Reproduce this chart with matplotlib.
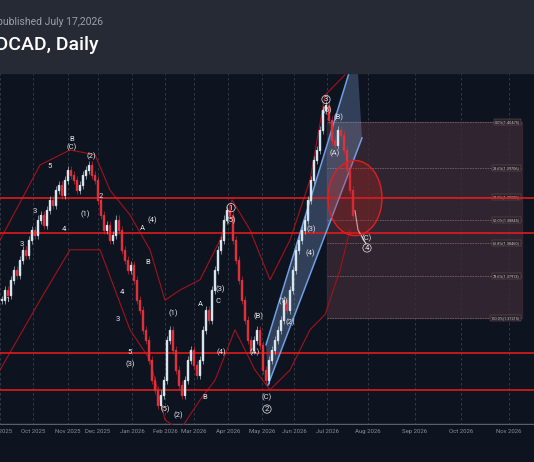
import matplotlib
matplotlib.use("Agg")
import matplotlib.pyplot as plt
from matplotlib.patches import Ellipse, Rectangle, Polygon
import numpy as np

plt.rcParams['font.family'] = ['Roboto', 'DejaVu Sans']

# ---- data ----
closes = [1.3751,1.3768,1.3760,1.3785,1.3801,1.3793,1.3818,1.3835,1.3826,1.3851,1.3868,1.3860,
          1.3885,1.3893,1.3876,1.3901,1.3918,1.3909,1.3934,1.3943,1.3926,1.3951,1.3968,1.3959,
          1.3951,1.3934,1.3943,1.3959,1.3968,1.3976,1.3959,1.3951,
          1.3918,1.3893,1.3868,1.3876,1.3851,1.3860,1.3885,1.3868,1.3835,1.3818,1.3801,1.3810,1.3785,1.3751,1.3735,1.3702,1.3685,
          1.3652,1.3618,1.3602,1.3577,1.3594,1.3618,
          1.3685,1.3702,1.3668,1.3635,1.3610,1.3594,1.3618,
          1.3652,1.3668,1.3643,1.3627,1.3652,1.3702,1.3735,1.3718,
          1.3768,1.3801,1.3835,1.3851,1.3885,1.3901,1.3893,
          1.3851,1.3818,1.3785,1.3751,1.3718,1.3685,1.3668,1.3685,
          1.3702,1.3677,1.3635,1.3618,
          1.3652,1.3668,1.3685,1.3702,1.3718,1.3751,1.3735,1.3768,1.3801,1.3835,1.3851,1.3868,1.3885,1.3918,1.3951,1.3984,1.4001,
          1.4034,1.4067,1.4076,1.4051,1.4018,1.4009,1.4034,1.4026,1.4001,1.3968,1.3934,1.3893]
band_x = [0,40,70,95,110,130,150,165,180,200,220,232,250,270,290,310,325,345]
upper_band = [1.3851,1.3976,1.4001,1.3993,1.3934,1.3893,1.3835,1.3751,1.3768,1.3785,1.3851,1.3918,
              1.3868,1.3785,1.3851,1.3951,1.4092,1.4126]
lower_x = [0,40,70,100,130,150,165,180,200,215,235,255,270,290,310,325,340,350]
lower_band = [1.3635,1.3751,1.3835,1.3835,1.3702,1.3652,1.3552,1.3535,1.3585,1.3618,1.3702,1.3635,
              1.3602,1.3635,1.3702,1.3727,1.3801,1.3868]
h_levels = [1.3921, 1.3863, 1.3664, 1.3602]
fib_top, fib_bot = 1.40475, 1.37215
fib_ratios = [0.0, 0.236, 0.382, 0.5, 0.618, 0.786, 1.0]
month_x = [0,33,68,98,132,165,194,228,262,294,327,368,415,461,509]
month_lbl = ['Sep 2025','Oct 2025','Nov 2025','Dec 2025','Jan 2026','Feb 2026','Mar 2026','Apr 2026',
             'May 2026','Jun 2026','Jul 2026','Aug 2026','Sep 2026','Oct 2026','Nov 2026']

BG = '#0e1320'
fig = plt.figure(figsize=(5.34, 4.62), dpi=100, facecolor=BG)
fig.patches.append(Rectangle((0, 1-73/462), 1, 73/462, transform=fig.transFigure, color='#262a35', zorder=0))
fig.text(-0.005, 1-22/462, 'published July 17,2026', color='#9aa0ab', fontsize=7.5, va='center')
fig.text(-0.055, 1-45/462, 'USDCAD, Daily', color='white', fontsize=14, va='center', weight='medium')

ax = fig.add_axes([0, 37/462, 1, 352/462])
ax.set_facecolor(BG)
ax.set_xlim(0, 534)
ax.set_ylim(1.35435, 1.41290)
for s in ax.spines.values():
    s.set_visible(False)
ax.set_yticks([])
ax.set_xticks(month_x)
ax.set_xticklabels(month_lbl, color='#8a8f99', fontsize=4.3)
ax.tick_params(axis='x', length=0, pad=3)
for mx in month_x:
    ax.axvline(mx, color='#3a3f4c', lw=0.6, ls=(0, (3, 3)), zorder=0)
ax.axhline(1.35435, color='#5a5f6a', lw=2.5, zorder=1)

# fib box
x0f, x1f = 327, 522
rng = fib_top - fib_bot
ax.add_patch(Rectangle((x0f, fib_bot), x1f - x0f, rng, color='#3b2a35', alpha=0.75, zorder=1))
for r in fib_ratios:
    lv = fib_top - r * rng
    ax.plot([x0f, x1f], [lv, lv], color='#7a5c64', lw=0.6, ls=(0, (2, 1)), zorder=2)
    ax.text(x1f - 2, lv, f'{r*100:.1f}%({lv:.5f})', color='#cfc6c8', fontsize=2.8, ha='right', va='center',
            bbox=dict(boxstyle='square,pad=0.2', fc='#2a2229', ec='#7a5c64', lw=0.3), zorder=3)

# horizontal red levels
for lv in h_levels:
    ax.axhline(lv, color='#e01b1b', lw=1.2, zorder=4)

# channel
ax.add_patch(Polygon([(266, 1.3677), (349, 1.4129), (358, 1.4129), (362, 1.4021), (268, 1.3610)],
                     closed=True, fc='#8fb4ec', alpha=0.28, ec='none', zorder=2))
ax.plot([266, 349], [1.3677, 1.4129], color='#6f9fe6', lw=1.1, zorder=5)
ax.plot([268, 362], [1.3610, 1.4021], color='#6f9fe6', lw=1.1, zorder=5)

# bands
ax.plot(band_x, upper_band, color='#a3121a', lw=0.8, zorder=3)
ax.plot(lower_x, lower_band, color='#a3121a', lw=0.8, zorder=3)

# candles
xs = np.arange(len(closes)) * 3 + 1.5
opens = [closes[0]] + closes[:-1]
for x, o, c in zip(xs, opens, closes):
    col = '#d6e6ee' if c >= o else '#e0303a'
    lo, hi = min(o, c), max(o, c)
    ax.vlines(x, lo - 0.0007, hi + 0.0007, color=col, lw=0.4, zorder=6)
    ax.add_patch(Rectangle((x - 0.8, lo), 1.6, max(hi - lo, 0.0002), color=col, zorder=6))

# projection
ax.plot([355, 358, 366], [1.3900, 1.3868, 1.3845], color='#dddddd', lw=0.8, zorder=7)
ax.add_patch(Ellipse((355, 1.3921), 54, 0.0125, fc='#c01e1e', alpha=0.3, ec='none', zorder=7))
ax.add_patch(Ellipse((355, 1.3921), 54, 0.0125, fc='none', ec='#e02020', lw=1, zorder=7))

labels = [(8, 1.3751, '1'), (22, 1.3845, '3'), (35, 1.3900, '3'), (50, 1.3975, '5'), (72, 1.4005, '(C)'),
          (72, 1.4020, 'B'), (91, 1.3990, '(2)'), (85, 1.3895, '(1)'), (101, 1.3925, '2'), (64, 1.3870, '4'),
          (142, 1.3872, 'A'), (152, 1.3885, '(4)'), (148, 1.3815, 'B'), (122, 1.3765, '4'), (118, 1.3720, '3'),
          (130, 1.3665, '5'), (130, 1.3645, '(3)'), (173, 1.3730, '(1)'), (165, 1.3570, '(5)'), (178, 1.3560, '(2)'),
          (200, 1.3745, 'A'), (205, 1.3590, 'B'), (221, 1.3665, '(4)'), (220, 1.3770, '(3)'), (218, 1.3750, 'C'),
          (231, 1.3905, '1'), (231, 1.3885, '(5)'), (259, 1.3725, '(B)'), (255, 1.3665, '(A)'), (267, 1.3590, '(C)'),
          (267, 1.3570, '2'), (283, 1.3750, '(1)'), (290, 1.3715, '(2)'), (310, 1.3830, '(4)'), (311, 1.3870, '(3)'),
          (326, 1.4085, '3'), (327, 1.4067, '(5)'), (339, 1.4055, '(B)'), (335, 1.3995, '(A)'), (367, 1.3855, '(C)'),
          (367, 1.3838, '4')]
for x, y, t in labels:
    ax.text(x, y, t, color='#e8e8e8', fontsize=5.5, ha='center', va='center', zorder=8,
            bbox=dict(boxstyle='circle,pad=0.15', fc='none', ec='#e8e8e8', lw=0.5) if t in ('1','2','3','4') and x > 225 else None)

fig.savefig('out.png', dpi=100, facecolor=BG)
